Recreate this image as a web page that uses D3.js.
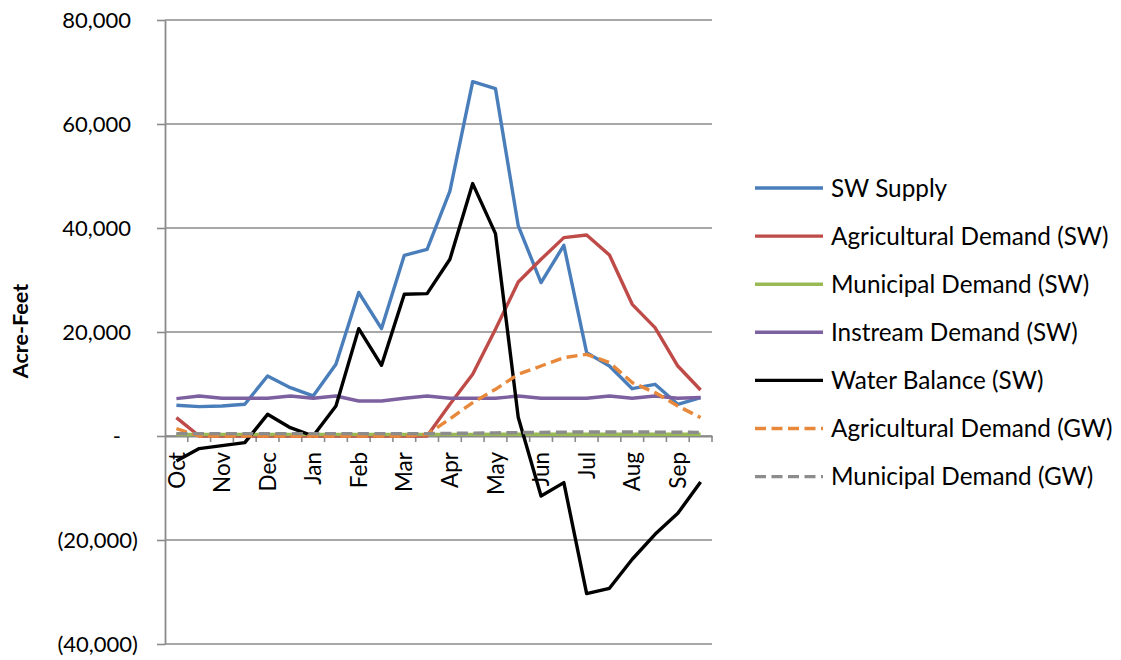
<!DOCTYPE html>
<html>
<head>
<meta charset="utf-8">
<script src="https://cdn.jsdelivr.net/npm/d3@7"></script>
<style>
  html, body { margin: 0; padding: 0; background: #fff; }
  svg { display: block; font-family: Lato, "Open Sans", sans-serif; }
</style>
</head>
<body>
<svg id="chart" width="1121" height="660"></svg>
<script>
// ---- data ----
const categories = ["Oct-1","Oct-2","Nov-1","Nov-2","Dec-1","Dec-2","Jan-1","Jan-2",
  "Feb-1","Feb-2","Mar-1","Mar-2","Apr-1","Apr-2","May-1","May-2",
  "Jun-1","Jun-2","Jul-1","Jul-2","Aug-1","Aug-2","Sep-1","Sep-2"];
const tickLabels = ["Oct","Nov","Dec","Jan","Feb","Mar","Apr","May","Jun","Jul","Aug","Sep"];
const yTicks = [-40000, -20000, 0, 20000, 40000, 60000, 80000];

const swSupply = [5900,5650,5770,6100,11540,9300,7700,13800,27600,20650,34750,35900,
  47100,68150,66800,40400,29500,36670,16040,13460,9100,9940,6100,7380];
const agDemandSW = [3540,0,0,0,0,0,0,0,0,0,0,0,
  6100,11870,20520,29620,33980,38150,38650,34800,25320,20840,13460,8850];
const munDemandSW = [300,300,300,300,300,300,300,300,300,300,300,300,
  320,320,330,330,330,330,330,330,330,330,330,330];
const instreamSW = [7190,7690,7250,7250,7250,7690,7250,7690,6730,6730,7250,7690,
  7250,7250,7250,7690,7250,7250,7250,7690,7250,7690,7250,7400];
const waterBalanceSW = [-4800,-2420,-1850,-1280,4170,1600,0,5770,20650,13600,27250,27380,
  33980,48540,38920,3540,-11540,-8960,-30310,-29290,-23700,-18900,-14870,-8850];
const agDemandGW = [1420,0,0,0,0,0,0,0,0,0,0,300,
  3300,6420,8980,11870,13460,15080,15710,14110,10270,8350,5770,3540];
const munDemandGW = [450,450,450,450,450,450,450,450,450,450,450,450,
  500,550,600,650,700,750,770,770,770,750,720,700];

const seriesNames = ["SW Supply","Agricultural Demand (SW)","Municipal Demand (SW)",
  "Instream Demand (SW)","Water Balance (SW)","Agricultural Demand (GW)","Municipal Demand (GW)"];
const seriesValues = [swSupply, agDemandSW, munDemandSW, instreamSW, waterBalanceSW, agDemandGW, munDemandGW];
const seriesColors = ["#4a7ebb","#be4b48","#98b954","#7d60a0","#000000","#e8883a","#8c8c8c"];
const seriesDashed = [false,false,false,false,false,true,true];

// ---- layout ----
const svg = d3.select("#chart");
const plotLeft = 165, plotRight = 712, plotTop = 20, plotBottom = 644;
const x = d3.scaleBand().domain(categories).range([plotLeft, plotRight]).padding(0);
const y = d3.scaleLinear().domain([-40000, 80000]).range([plotBottom, plotTop]);
const gridColor = "#8a8a8a";

// gridlines
svg.append("g").selectAll("line").data(yTicks).join("line")
  .attr("x1", plotLeft).attr("x2", plotRight)
  .attr("y1", d => y(d)).attr("y2", d => y(d))
  .attr("stroke", gridColor).attr("stroke-width", 1.6);

// y axis
const yAxis = d3.axisLeft(y).tickValues(yTicks).tickSize(8).tickSizeOuter(0)
  .tickFormat(d => d === 0 ? "-" : (d < 0 ? "(" + d3.format(",")(-d) + ")" : d3.format(",")(d)));
const gy = svg.append("g").attr("transform", `translate(${plotLeft},0)`).call(yAxis);
gy.select(".domain").attr("stroke", gridColor).attr("stroke-width", 1.8);
gy.selectAll(".tick line").attr("stroke", gridColor).attr("stroke-width", 1.6);
gy.selectAll(".tick text")
  .attr("font-family", "Lato, sans-serif").attr("font-size", 22).attr("fill", "#000")
  .attr("x", d => d < 0 ? -27 : (d === 0 ? -44 : -34))
  .attr("dy", "0.36em");

// x axis at zero
const xAxis = d3.axisBottom(x).tickSize(0).tickSizeOuter(0).tickFormat("");
const gx = svg.append("g").attr("transform", `translate(0,${y(0)})`).call(xAxis);
gx.select(".domain").attr("stroke", gridColor).attr("stroke-width", 1.8);
// category boundary tick marks
const boundaries = categories.map(c => x(c)).concat([plotRight]);
gx.append("g").selectAll("line").data(boundaries.slice(1)).join("line")
  .attr("x1", d => d).attr("x2", d => d).attr("y1", 0).attr("y2", 6)
  .attr("stroke", gridColor).attr("stroke-width", 1.6);
// month labels (every other category)
gx.append("g").selectAll("text").data(tickLabels).join("text")
  .attr("transform", (d, i) => `translate(${x(categories[i * 2]) + x.bandwidth() / 2},16) rotate(-90)`)
  .attr("text-anchor", "end").attr("dy", "0.36em")
  .attr("font-family", "Lato, sans-serif").attr("font-size", 22.5).attr("fill", "#000")
  .text(d => d);

// y axis title
svg.append("text")
  .attr("transform", `translate(20,331) rotate(-90)`)
  .attr("text-anchor", "middle").attr("dy", "0.36em")
  .attr("font-family", "Lato, sans-serif").attr("font-weight", "bold").attr("font-size", 21.5)
  .text("Acre-Feet");

// lines
const line = d3.line().x((d, i) => x(categories[i]) + x.bandwidth() / 2).y(d => y(d));
seriesValues.forEach((vals, k) => {
  svg.append("path").datum(vals)
    .attr("d", line)
    .attr("fill", "none")
    .attr("stroke", seriesColors[k])
    .attr("stroke-width", 3.4)
    .attr("stroke-linejoin", "round")
    .attr("stroke-dasharray", seriesDashed[k] ? "11,5.5" : null);
});

// legend
const legY0 = 188, legStep = 48.1;
const leg = svg.append("g");
seriesNames.forEach((name, k) => {
  const ly = legY0 + k * legStep;
  leg.append("line").attr("x1", 755).attr("x2", 823).attr("y1", ly).attr("y2", ly)
    .attr("stroke", seriesColors[k]).attr("stroke-width", 3.4)
    .attr("stroke-dasharray", seriesDashed[k] ? "11,5.5" : null);
  leg.append("text").attr("x", 831).attr("y", ly).attr("dy", "0.36em")
    .attr("font-family", "Lato, sans-serif").attr("font-size", 24.3).attr("fill", "#000")
    .text(name);
});
</script>
</body>
</html>
